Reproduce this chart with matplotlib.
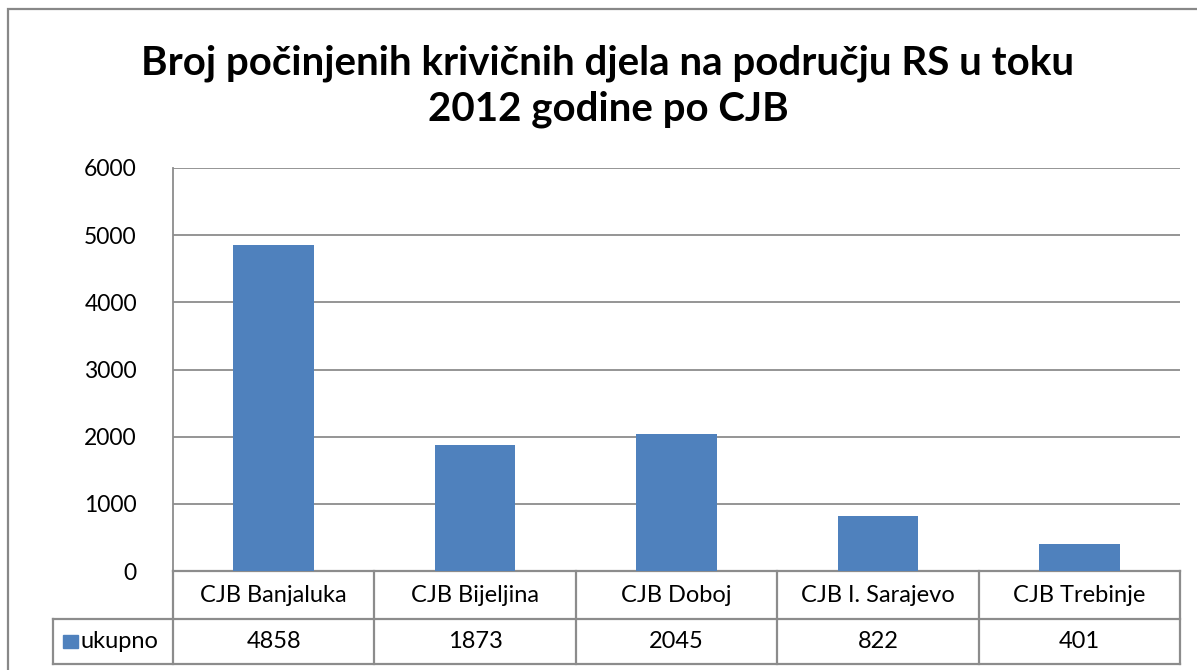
import numpy as np
import matplotlib.pyplot as plt
from matplotlib.patches import Rectangle
from matplotlib.lines import Line2D
from matplotlib.transforms import blended_transform_factory

plt.rcParams['font.family'] = ['Lato', 'DejaVu Sans']

# podaci
categories = ['CJB Banjaluka', 'CJB Bijeljina', 'CJB Doboj', 'CJB I. Sarajevo', 'CJB Trebinje']
ukupno = [4858, 1873, 2045, 822, 401]
series_name = 'ukupno'
yticks = [0, 1000, 2000, 3000, 4000, 5000, 6000]
title = 'Broj počinjenih krivičnih djela na području RS u toku\n2012 godine po CJB'

bar_color = '#4F81BD'
line_color = '#8C8C8C'

W, H = 1197, 670
fig = plt.figure(figsize=(W / 100, H / 100), dpi=100)

# okvir grafikona
fig.add_artist(Rectangle((8 / W, -0.1), 1.2, 1 - 9 / H + 0.1, transform=fig.transFigure,
                         fill=False, edgecolor='#888888', lw=1.6))

ax = fig.add_axes([173 / W, 1 - 571 / H, (1180 - 173) / W, (571 - 168) / H])
x = np.arange(len(categories))
ax.bar(x, ukupno, width=0.4, color=bar_color, zorder=3)

ax.set_xlim(-0.5, len(categories) - 0.5)
ax.set_ylim(0, 6000)
ax.set_yticks(yticks)
ax.set_yticklabels([str(v) for v in yticks], fontsize=16.5)
ax.tick_params(axis='y', length=0, pad=26)
ax.set_xticks([])
ax.yaxis.grid(True, color=line_color, lw=1.3, zorder=0)
for s in ['top', 'right', 'bottom']:
    ax.spines[s].set_visible(False)
ax.spines['left'].set_color(line_color)
ax.spines['left'].set_linewidth(1.3)

# naslov
fig.text(608 / W, 1 - 86 / H, title, ha='center', va='center', fontsize=29,
         fontweight='bold', linespacing=1.3)

# tabela podataka
tr = blended_transform_factory(ax.transData, ax.transAxes)
r1 = -(619 - 571) / (571 - 168)
r2 = -(664 - 571) / (571 - 168)
leg_left = -0.5 - (173 - 53) / ((1180 - 173) / len(categories))

def hline(x0, x1, y):
    ax.add_line(Line2D([x0, x1], [y, y], transform=tr, color=line_color, lw=1.6, clip_on=False))

def vline(xv, y0, y1):
    ax.add_line(Line2D([xv, xv], [y0, y1], transform=tr, color=line_color, lw=1.6, clip_on=False))

hline(-0.5, len(categories) - 0.5, 0)
hline(leg_left, len(categories) - 0.5, r1)
hline(leg_left, len(categories) - 0.5, r2)
for b in np.arange(len(categories) + 1) - 0.5:
    vline(b, r2, 0)
vline(leg_left, r2, r1)

for i, (c, v) in enumerate(zip(categories, ukupno)):
    ax.text(i, r1 / 2, c, transform=tr, ha='center', va='center', fontsize=17)
    ax.text(i, (r1 + r2) / 2, str(v), transform=tr, ha='center', va='center', fontsize=17)

# legenda u tabeli
ax.add_patch(Rectangle((leg_left + 0.05, (r1 + r2) / 2 - 0.016), 0.075, 0.032, transform=tr,
                       color=bar_color, clip_on=False))
ax.text(leg_left + 0.135, (r1 + r2) / 2, series_name, transform=tr, ha='left', va='center', fontsize=17)

fig.savefig('out.png', dpi=100)
